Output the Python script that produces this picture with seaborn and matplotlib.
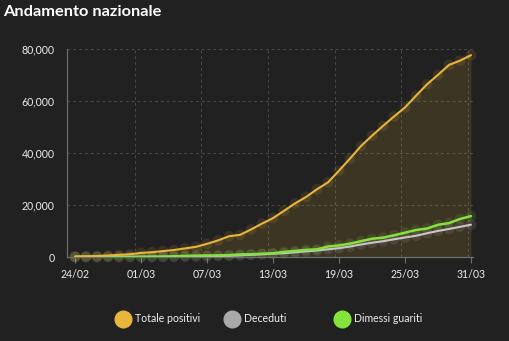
import pandas as pd
import matplotlib
matplotlib.use("Agg")
import matplotlib.pyplot as plt
from matplotlib.lines import Line2D
from matplotlib.ticker import FuncFormatter
import seaborn as sns

# Daily national totals, 24 Feb - 31 Mar 2020
dates = pd.date_range("2020-02-24", "2020-03-31", freq="D")
totale_positivi = [221, 311, 385, 588, 821, 1049, 1577, 1835, 2263, 2706, 3296, 3916,
                   5061, 6387, 7985, 8514, 10590, 12839, 14955, 17750, 20603, 23073,
                   26062, 28710, 33190, 37860, 42681, 46638, 50418, 54030, 57521,
                   62013, 66414, 70065, 73880, 75528, 77635]
deceduti = [7, 10, 12, 17, 21, 29, 34, 52, 79, 107, 148, 197, 233, 366, 463, 631, 827,
            1016, 1266, 1441, 1809, 2158, 2503, 2978, 3405, 4032, 4825, 5476, 6077,
            6820, 7503, 8165, 9134, 10023, 10779, 11591, 12428]
dimessi_guariti = [1, 1, 3, 45, 46, 50, 83, 149, 160, 276, 414, 523, 589, 622, 724,
                   1004, 1045, 1258, 1439, 1966, 2335, 2749, 2941, 4025, 4440, 5129,
                   6072, 7024, 7432, 8326, 9362, 10361, 10950, 12384, 13030, 14620,
                   15729]

series_names = ["Totale positivi", "Deceduti", "Dimessi guariti"]
tick_labels = ["24/02", "01/03", "07/03", "13/03", "19/03", "25/03", "31/03"]
y_ticks = [0, 20000, 40000, 60000, 80000]

line_colors = {"Totale positivi": "#e8b53d",
               "Deceduti": "#c6c6c6",
               "Dimessi guariti": "#86e03f"}
legend_colors = {"Totale positivi": "#e8b53d",
                 "Deceduti": "#a9a9a9",
                 "Dimessi guariti": "#84e43c"}

days = (dates - dates[0]).days
df = pd.concat([
    pd.DataFrame({"giorno": days, "valore": vals, "serie": name})
    for name, vals in zip(series_names, [totale_positivi, deceduti, dimessi_guariti])
], ignore_index=True)

BG = "#212121"
W, H = 509, 341
sns.set_theme(style="dark")
plt.rcParams["font.family"] = ["Lato", "DejaVu Sans"]

fig = plt.figure(figsize=(W / 100, H / 100), dpi=100, facecolor=BG)
ax = fig.add_axes([67 / W, 1 - 257 / H, (473 - 67) / W, (257 - 49) / H])
ax.set_facecolor(BG)

# shaded area under the positives curve
ax.fill_between(days, totale_positivi, color=line_colors["Totale positivi"],
                alpha=0.14, lw=0, zorder=1)

# faint point markers and the lines on top
sns.scatterplot(data=df, x="giorno", y="valore", hue="serie", hue_order=series_names,
                palette=line_colors, s=60, alpha=0.12, edgecolor="none",
                legend=False, ax=ax, zorder=2, clip_on=False)
for name, lw in zip(["Deceduti", "Dimessi guariti", "Totale positivi"], [1.5, 1.8, 1.5]):
    sns.lineplot(data=df[df["serie"] == name], x="giorno", y="valore",
                 color=line_colors[name], linewidth=lw, legend=False, ax=ax,
                 zorder=3)

ax.set_xlim((67 - 75) / 11, (473 - 75) / 11)
ax.set_ylim(0, 80000)
ax.set_xticks(days[::6])
ax.set_xticklabels(tick_labels)
ax.set_xticks([(68 + k * 400 / 6 - 75) / 11 for k in range(1, 7)], minor=True)
ax.set_yticks(y_ticks)
ax.yaxis.set_major_formatter(FuncFormatter(lambda v, _: f"{int(v):,}"))
ax.set_xlabel("")
ax.set_ylabel("")

ax.grid(False)
ax.yaxis.grid(True, color="#4a4a4a", linestyle=(0, (3, 3)), linewidth=0.7)
ax.xaxis.grid(True, which="minor", color="#4a4a4a", linestyle=(0, (3, 3)), linewidth=0.7)
ax.set_axisbelow(True)

for side in ["top", "right"]:
    ax.spines[side].set_visible(False)
for side in ["left", "bottom"]:
    ax.spines[side].set_visible(True)
    ax.spines[side].set_color("#6e6e6e")
    ax.spines[side].set_linewidth(0.9)

ax.tick_params(axis="both", which="major", colors="#6e6e6e", length=4.5, width=0.8,
               labelcolor="#ececec", labelsize=7.6, direction="out")
ax.tick_params(axis="y", pad=4.5)
ax.tick_params(axis="x", pad=4.5, bottom=True)
ax.tick_params(axis="x", which="minor", length=0)

fig.text(3 / W, 1 - 12 / H, "Andamento nazionale", color="white", fontsize=11.8,
         fontweight="bold", va="center", ha="left")

# legend row at the bottom
legend_y = 1 - 319 / H
for name, cx, tx in zip(series_names, [123, 232, 342], [135, 244, 354]):
    fig.add_artist(Line2D([cx / W], [legend_y], marker="o", markersize=12,
                          color=legend_colors[name], linestyle="none",
                          transform=fig.transFigure))
    fig.text(tx / W, legend_y, name, color="#f0f0f0", fontsize=7.6,
             va="center", ha="left")

fig.savefig("out.png", dpi=100, facecolor=BG)
